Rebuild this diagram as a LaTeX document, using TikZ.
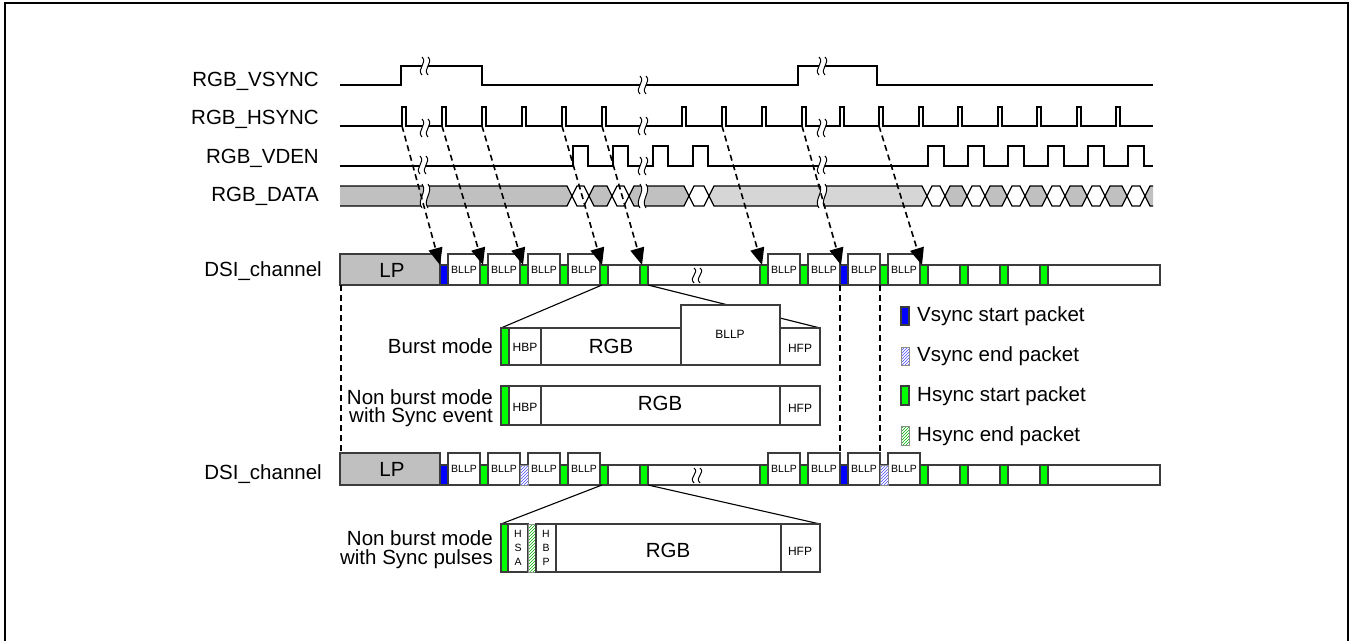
\documentclass[tikz,border=0pt]{standalone}
\usepackage{fontspec}
\setmainfont{Liberation Sans}
\usetikzlibrary{arrows.meta,patterns}
\definecolor{pgreen}{RGB}{0,255,0}
\definecolor{pblue}{RGB}{0,0,255}
\definecolor{dgray}{RGB}{192,192,192}
\definecolor{lgray}{RGB}{214,214,214}
\definecolor{edge}{RGB}{60,60,60}
\newcommand\brk[3]{%
  \fill[white] (#1-3,#2-#3) .. controls (#1+3,#2-#3/3) and (#1-9,#2+#3/3) .. (#1-3,#2+#3)
     -- (#1+3,#2+#3) .. controls (#1-3,#2+#3/3) and (#1+9,#2-#3/3) .. (#1+3,#2-#3) -- cycle;
  \draw[line width=1pt] (#1-3,#2-#3) .. controls (#1+3,#2-#3/3) and (#1-9,#2+#3/3) .. (#1-3,#2+#3);
  \draw[line width=1pt] (#1+3,#2-#3) .. controls (#1+9,#2-#3/3) and (#1-3,#2+#3/3) .. (#1+3,#2+#3);}
\newcommand\seg[3]{\draw[wire, fill=#3] (#1,196) -- (#1+5,186) -- (#2-5,186) -- (#2,196) -- (#2-5,206) -- (#1+5,206) -- cycle;}
\begin{document}
\begin{tikzpicture}[x=1pt,y=-1pt,
  lbl/.style={font=\fontsize{20.5}{23}\selectfont, inner sep=0pt},
  sm/.style={font=\fontsize{10.5}{12}\selectfont, inner sep=0pt},
  md/.style={font=\fontsize{12}{14}\selectfont, inner sep=0pt},
  wire/.style={line width=1.2pt, draw=black},
  box/.style={draw=edge, line width=1.1pt},
  gpk/.style={box, fill=pgreen},
  bpk/.style={box, fill=pblue},
  hbpk/.style={draw=black!45, line width=0.8pt, preaction={fill=white}, pattern=north east lines, pattern color=blue!70},
  hgpk/.style={draw=black!45, line width=0.8pt, preaction={fill=white}, pattern=north east lines, pattern color=green!70!black},
  dsh/.style={line width=1.6pt, dash pattern=on 6pt off 4pt},
  harrow/.style={dsh, -{Triangle[length=17pt,width=14pt]}}]
\useasboundingbox (0,0) rectangle (1354,640);
\fill[white] (0,0) rectangle (1354,640);
\draw[line width=2pt] (5,650) -- (5,3) -- (1348,3) -- (1348,650);

% ---- signal labels
\node[lbl, anchor=base east] (lv) at (319,86) {RGB\_VSYNC};
\node[lbl, anchor=base east] (lh) at (319,124) {RGB\_HSYNC};
\node[lbl, anchor=base east] (le) at (319,163) {RGB\_VDEN};
\node[lbl, anchor=base east] (ld) at (319,201) {RGB\_DATA};

% ---- VSYNC
\draw[wire] (340,85) -- (401,85) -- (401,66) -- (482,66) -- (482,85) -- (798,85) -- (798,66) -- (877,66) -- (877,85) -- (1153,85);
\brk{425}{66}{9}\brk{643}{85}{9}\brk{822}{66}{9}
% ---- HSYNC
\draw[wire] (340,126) foreach \p in {402,442,482,522,562,602,682,722,762,802,840,879,919,958,998,1037,1077,1116} { -- (\p,126) -- (\p,107) -- (\p+4,107) -- (\p+4,126) } -- (1153,126);
\brk{425}{128}{9}\brk{643}{126}{9}\brk{822}{128}{9}
% ---- VDEN
\draw[wire] (340,166) foreach \r/\f in {573/588,613/628,653/668,693/708,928/944,968/984,1008/1024,1048/1064,1088/1104,1128/1144} { -- (\r,166) -- (\r,146) -- (\f,146) -- (\f,166) } -- (1153,166);
\brk{423}{165}{9}\brk{643}{166}{9}\brk{822}{165}{9}
% ---- DATA
\fill[dgray] (340,186) -- (567,186) -- (572,196) -- (567,206) -- (340,206) -- cycle;
\draw[wire] (340,186) -- (567,186) -- (572,196) -- (567,206) -- (340,206);
\seg{572}{589}{white}\seg{589}{612}{dgray}\seg{612}{629}{white}\seg{629}{689}{dgray}
\seg{689}{709}{white}\seg{709}{927}{lgray}
\foreach \a/\b in {927/945,967/985,1007/1025,1047/1065,1087/1105,1127/1145} {\seg{\a}{\b}{white}}
\foreach \a/\b in {945/967,985/1007,1025/1047,1065/1087,1105/1127} {\seg{\a}{\b}{dgray}}
\fill[dgray] (1145,196) -- (1150,186) -- (1153,186) -- (1153,206) -- (1150,206) -- cycle;
\draw[wire] (1153,186) -- (1150,186) -- (1145,196) -- (1150,206) -- (1153,206);
\brk{425}{196}{12}\brk{643}{196}{12}\brk{822}{196}{12}

% ---- DSI rows
\node[lbl, anchor=base east] (dsi1) at (322,276) {DSI\_channel};
\node[lbl, anchor=base east] (dsi2) at (322,479) {DSI\_channel};
\foreach \T/\A/\B/\M in {254/265/285/270,453/465/485/469} {
  \draw[box, fill=white] (440,\A) rectangle (1160,\B);
  \draw[box, fill=dgray] (340,\T) rectangle (440,\B);
  \node[lbl] at (392,\M) {LP};
  \foreach \x in {448,488,528,568,768,808,848,888} {
    \draw[box, fill=white] (\x,\T) rectangle (\x+32,\B);
    \node[sm] at (\x+16,\M) {BLLP};
  }
  \draw[line width=1pt] (694,\A+3) .. controls (700,\A+8) and (688,\B-8) .. (694,\B-2);
  \draw[line width=1pt] (700,\A+3) .. controls (706,\A+8) and (694,\B-8) .. (700,\B-2);
  \foreach \x in {440,840} {\draw[bpk] (\x,\A) rectangle (\x+8,\B);}
  \foreach \x in {480,560,600,640,760,800,920,960,1000,1040} {\draw[gpk] (\x,\A) rectangle (\x+8,\B);}
}
\foreach \x in {520,880} {\draw[gpk] (\x,265) rectangle (\x+8,285);}
\foreach \x in {520,880} {\draw[hbpk] (\x,465) rectangle (\x+8,485);}

% ---- dashed mapping arrows
\foreach \s/\t [count=\i] in {402/440,442/483,482/523,562/602,602/642,722/762,802/841,879/922} {
  \coordinate (hs\i) at (\s,126);
  \coordinate (pk\i) at (\t,265);
  \draw[harrow] (hs\i) -- (pk\i);
}
% ---- vertical dashed guides
\coordinate (v1a) at (341,285); \coordinate (v1b) at (341,453);
\coordinate (v2a) at (840,285); \coordinate (v2b) at (840,453);
\coordinate (v3a) at (880,285); \coordinate (v3b) at (880,453);
\draw[dsh] (v1a) -- (v1b);
\draw[dsh] (v2a) -- (v2b);
\draw[dsh] (v3a) -- (v3b);

% ---- fan lines
\coordinate (fa1) at (602,285); \coordinate (fb1) at (648,285);
\coordinate (ba) at (501,328); \coordinate (bb) at (820,328);
\coordinate (fa2) at (602,485); \coordinate (fb2) at (648,485);
\coordinate (pa) at (501,524); \coordinate (pb) at (820,524);
\draw[line width=1.1pt] (fa1) -- (ba);
\draw[line width=1.1pt] (fb1) -- (bb);
\draw[line width=1.1pt] (fa2) -- (pa);
\draw[line width=1.1pt] (fb2) -- (pb);

% ---- Burst mode
\node[lbl, anchor=east] (bm) at (493,346) {Burst mode};
\draw[box, fill=white] (509,328) rectangle (541,365);
\draw[box, fill=white] (541,328) rectangle (681,365);
\draw[box, fill=white] (681,305) rectangle (780,365);
\draw[box, fill=white] (780,328) rectangle (820,365);
\draw[gpk] (501,328) rectangle (509,365);
\node[md] at (525,347) {HBP};
\node[lbl] at (611,346) {RGB};
\node[md] at (730,334) {BLLP};
\node[md] at (800,348) {HFP};

% ---- Non burst with sync event
\node[lbl, anchor=east] (ne1) at (493,397) {Non burst mode};
\node[lbl, anchor=east] (ne2) at (493,417) {with Sync event};
\draw[box, fill=white] (509,386) rectangle (541,425);
\draw[box, fill=white] (541,386) rectangle (780,425);
\draw[box, fill=white] (780,386) rectangle (820,425);
\draw[gpk] (501,386) rectangle (509,425);
\node[md] at (525,407) {HBP};
\node[lbl] at (660,403) {RGB};
\node[md] at (800,408) {HFP};

% ---- Non burst with sync pulses
\node[lbl, anchor=east] (np1) at (493,538) {Non burst mode};
\node[lbl, anchor=east] (np2) at (493,559) {with Sync pulses};
\draw[box, fill=white] (508,524) rectangle (528,572);
\draw[hgpk] (528,524) rectangle (536,572);
\draw[box, fill=white] (536,524) rectangle (556,572);
\draw[box, fill=white] (556,524) rectangle (781,572);
\draw[box, fill=white] (781,524) rectangle (820,572);
\draw[gpk] (501,524) rectangle (508,572);
\node[sm] at (518,534) {H};
\node[sm] at (518,548) {S};
\node[sm] at (518,562) {A};
\node[sm] at (546,534) {H};
\node[sm] at (546,548) {B};
\node[sm] at (546,562) {P};
\node[lbl] at (668,550) {RGB};
\node[md] at (800,551) {HFP};

% ---- Legend
\draw[bpk] (901,307) rectangle (909,325);
\node[lbl, anchor=west] (lg1) at (917,316) {Vsync start packet};
\draw[hbpk] (901,347) rectangle (909,365);
\node[lbl, anchor=west] (lg2) at (917,356) {Vsync end packet};
\draw[gpk] (901,386) rectangle (909,405);
\node[lbl, anchor=west] (lg3) at (917,396) {Hsync start packet};
\draw[hgpk] (901,426) rectangle (909,445);
\node[lbl, anchor=west] (lg4) at (917,436) {Hsync end packet};
\end{tikzpicture}
\end{document}
